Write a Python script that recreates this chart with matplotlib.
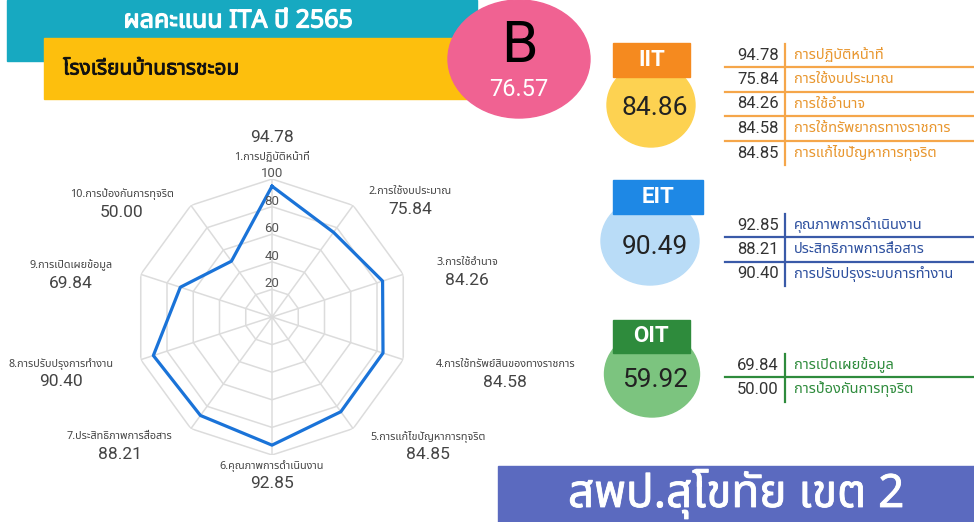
import numpy as np
import matplotlib
matplotlib.use("Agg")
import matplotlib.pyplot as plt
import matplotlib.patheffects as pe
from matplotlib import font_manager
from matplotlib.ft2font import FT2Font
from matplotlib.patches import Rectangle, Ellipse

# ---------------- data ----------------
title = "ผลคะแนน ITA ปี 2565"
school = "โรงเรียนบ้านธารชะอม"
grade = "B"
total_score = 76.57
footer = "สพป.สุโขทัย เขต 2"

radar_labels = ["1.การปฏิบัติหน้าที่", "2.การใช้งบประมาณ", "3.การใช้อำนาจ",
                "4.การใช้ทรัพย์สินของทางราชการ", "5.การแก้ไขปัญหาการทุจริต",
                "6.คุณภาพการดำเนินงาน", "7.ประสิทธิภาพการสื่อสาร",
                "8.การปรับปรุงการทำงาน", "9.การเปิดเผยข้อมูล", "10.การป้องกันการทุจริต"]
radar_values = [94.78, 75.84, 84.26, 84.58, 84.85, 92.85, 88.21, 90.40, 69.84, 50.00]
radar_ticks = [20, 40, 60, 80, 100]

group_names = ["IIT", "EIT", "OIT"]
group_scores = [84.86, 90.49, 59.92]
iit_items = ["การปฏิบัติหน้าที่", "การใช้งบประมาณ", "การใช้อำนาจ",
             "การใช้ทรัพยากรทางราชการ", "การแก้ไขปัญหาการทุจริต"]
iit_values = [94.78, 75.84, 84.26, 84.58, 84.85]
eit_items = ["คุณภาพการดำเนินงาน", "ประสิทธิภาพการสื่อสาร", "การปรับปรุงระบบการทำงาน"]
eit_values = [92.85, 88.21, 90.40]
oit_items = ["การเปิดเผยข้อมูล", "การป้องกันการทุจริต"]
oit_values = [69.84, 50.00]

# ---------------- fonts ----------------
def find_thai_family():
    prefer = []
    for f in font_manager.fontManager.ttflist:
        try:
            cm = FT2Font(f.fname).get_charmap()
        except Exception:
            continue
        if 0x0E01 in cm and 0x0E33 in cm:
            prefer.append(f.name)
    for p in ["Noto Sans Thai", "Noto Sans Thai UI", "Noto Sans", "DejaVu Sans"]:
        if p in prefer:
            return p
    return prefer[0] if prefer else None

thai = find_thai_family()
fam = [thai, "DejaVu Sans"] if thai and thai != "DejaVu Sans" else ["DejaVu Sans"]
latin = ["Roboto", "DejaVu Sans"]
plt.rcParams["font.family"] = fam


def faux_bold(color, w=0.9):
    return [pe.withStroke(linewidth=w, foreground=color)]


# ---------------- figure ----------------
W, H = 974, 522
fig = plt.figure(figsize=(W / 100, H / 100), dpi=100)
ax = fig.add_axes([0, 0, 1, 1])
ax.set_xlim(0, W)
ax.set_ylim(H, 0)
ax.axis("off")

teal = "#17a9c1"
yellow = "#fdbf0d"
pink = "#f06292"
ax.add_patch(Rectangle((7, 0), 470, 61, color=teal, zorder=1))
ax.add_patch(Rectangle((44, 38), 430, 61, color=yellow, zorder=2))
ax.text(238, 21, title, color="white", fontsize=18, fontweight="bold",
        ha="center", va="center", zorder=3, family=fam,
        path_effects=faux_bold("white", 0.9))
ax.text(63, 69, school, color="#111111", fontsize=15, fontweight="bold",
        ha="left", va="center", zorder=3, family=fam,
        path_effects=faux_bold("#111111", 0.6))
ax.add_patch(Ellipse((519, 59), 142, 118, color=pink, zorder=4))
ax.text(519, 47, grade, color="black", fontsize=42, ha="center", va="center",
        zorder=5, family=latin)
ax.text(519, 90, f"{total_score:.2f}", color="white", fontsize=17, ha="center",
        va="center", zorder=5, family=latin)

# right side groups
hdr_colors = ["#f58a1f", "#1e88e5", "#2e8b3c"]
circ_colors = ["#fdd251", "#b9dcf7", "#7cc47f"]
line_colors = ["#f5a64a", "#3a5aa8", "#2e8b3c"]
text_colors = ["#e8962e", "#2c4f9e", "#2e8b3c"]
hdr_box = [(613, 43, 77, 34), (613, 180, 90, 34), (613, 320, 77, 33)]
circ_geo = [(651, 105, 88, 84), (650, 241, 98, 88), (652, 374, 95, 86)]
score_y = [108, 247, 380]
row_y0 = [55, 225, 365]
items = [iit_items, eit_items, oit_items]
vals = [iit_values, eit_values, oit_values]
row_h = 24.5
for g in range(3):
    ex, ey, ew, eh = circ_geo[g]
    ax.add_patch(Ellipse((ex, ey), ew, eh, color=circ_colors[g], zorder=2))
    bx, by, bw, bh = hdr_box[g]
    ax.add_patch(Rectangle((bx, by), bw, bh, color=hdr_colors[g], zorder=3))
    ax.text(bx + bw / 2, by + bh / 2, group_names[g], color="white", fontsize=16,
            fontweight="bold", ha="center", va="center", zorder=4, family=latin)
    ax.text(655, score_y[g], f"{group_scores[g]:.2f}", color="#222222",
            fontsize=19, ha="center", va="center", zorder=4, family=latin)
    n = len(items[g])
    ys = [row_y0[g] + i * row_h for i in range(n)]
    for i in range(n):
        ax.text(779, ys[i], f"{vals[g][i]:.2f}", color="#333333", fontsize=12,
                ha="right", va="center", zorder=4, family=latin)
        ax.text(794, ys[i], items[g][i], color=text_colors[g], fontsize=10.5,
                ha="left", va="center", zorder=4, family=fam)
        if i < n - 1:
            ax.plot([725, W], [ys[i] + row_h / 2, ys[i] + row_h / 2],
                    color=line_colors[g], lw=1.6, zorder=3)
    ax.plot([785, 785], [ys[0] - 11, ys[-1] + 12], color=line_colors[g],
            lw=1.6, zorder=3)

# footer
ax.add_patch(Rectangle((498, 466), W - 498, H - 466, color="#5b6abf", zorder=2))
ax.text(736, 507, footer, color="white", fontsize=33, ha="center", va="baseline",
        zorder=3, family=fam, path_effects=faux_bold("white", 0.6))

# ---------------- radar ----------------
cx, cy, R = 272, 317, 138
pax = fig.add_axes([(cx - R) / W, (H - cy - R) / H, 2 * R / W, 2 * R / H],
                   projection="polar", zorder=5)
pax.set_facecolor("none")
pax.set_theta_zero_location("N")
pax.set_theta_direction(-1)
pax.set_ylim(0, 100)
pax.grid(False)
pax.spines["polar"].set_visible(False)
pax.set_xticks([])
pax.set_yticks([])
n = len(radar_values)
theta = np.arange(n) * 2 * np.pi / n
th_closed = np.append(theta, theta[0])
grid_c = "#dcdcdc"
for r in radar_ticks:
    pax.plot(th_closed, [r] * (n + 1), color=grid_c, lw=1.1, zorder=1)
for t in theta:
    pax.plot([t, t], [0, 100], color=grid_c, lw=1.1, zorder=1)
pax.plot(th_closed, np.append(radar_values, radar_values[0]), color="#1a73d8",
         lw=2.3, zorder=3)
for r in radar_ticks:
    pax.text(0, r + 4, str(r), ha="center", va="center", fontsize=9.5,
             color="#555555", zorder=4, family=latin)

# label offsets in pixels relative to outer vertex: (dx, dy)
offs = [(0, -22), (57, -14), (64, -12), (102, 5), (75, 8), (0, 11),
        (-71, 8), (-80, 4), (-70, -9), (-69, -11)]
for k in range(n):
    dx, dy = offs[k]
    pax.annotate(radar_labels[k], xy=(theta[k], 100), xytext=(dx * 0.72, -dy * 0.72),
                 textcoords="offset points", ha="center", va="center", fontsize=7.8,
                 color="#444444", family=fam, annotation_clip=False)
    pax.annotate(f"{radar_values[k]:.2f}", xy=(theta[k], 100),
                 xytext=(dx * 0.72, -(dy + (18 if k != 0 else -19)) * 0.72),
                 textcoords="offset points", ha="center", va="center", fontsize=12.5,
                 color="#444444", family=latin, annotation_clip=False)

fig.savefig("out.png", dpi=100)
